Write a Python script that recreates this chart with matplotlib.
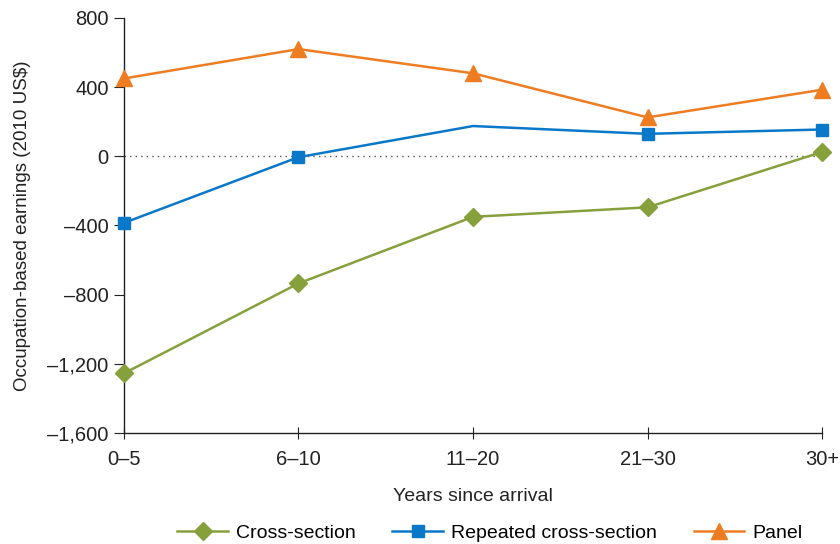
import matplotlib.pyplot as plt
from matplotlib.ticker import FuncFormatter

plt.rcParams["font.family"] = ["Liberation Sans", "DejaVu Sans"]

categories = ["0\u20135", "6\u201310", "11\u201320", "21\u201330", "30+"]
cross_section = [-1255, -735, -350, -295, 25]
repeated = [-385, -5, 175, 130, 155]
panel = [450, 620, 480, 225, 385]

GREEN = "#86a03c"
BLUE = "#0a78c8"
ORANGE = "#ee7d22"
TEXT = "#222222"

fig = plt.figure(figsize=(8.4, 5.44), dpi=100)
ax = fig.add_axes([0.1476, 0.204, 0.831, 0.763])

x = list(range(len(categories)))
ax.axhline(0, color="#555555", lw=1, ls=(0, (1, 3)), zorder=1)

ax.plot(x, cross_section, color=GREEN, lw=1.8, marker="D", ms=9,
        label="Cross-section", zorder=3)
ax.plot(x, repeated, color=BLUE, lw=1.8, marker="s", ms=9,
        markevery=[0, 1, 3, 4], label="Repeated cross-section", zorder=3)
ax.plot(x, panel, color=ORANGE, lw=1.8, marker="^", ms=12,
        label="Panel", zorder=3)

ax.set_xlim(0, 4)
ax.set_ylim(-1600, 800)
ax.set_yticks(range(-1600, 801, 400))
ax.yaxis.set_major_formatter(FuncFormatter(
    lambda v, p: f"{int(v):,}".replace("-", "\u2013")))
ax.set_xticks(x)
ax.set_xticklabels(categories)

for s in ["top", "right"]:
    ax.spines[s].set_visible(False)
for s in ["left", "bottom"]:
    ax.spines[s].set_color(TEXT)
    ax.spines[s].set_linewidth(1)

ax.tick_params(axis="y", direction="out", length=7, labelsize=14.5,
               colors=TEXT, pad=4)
ax.tick_params(axis="x", direction="inout", length=8, labelsize=14.5,
               colors=TEXT, pad=8)

ax.set_ylabel("Occupation-based earnings (2010 US$)", fontsize=13.5,
              color=TEXT, labelpad=12)
ax.set_xlabel("Years since arrival", fontsize=14, color=TEXT, labelpad=14)
for ln in ax.lines:
    ln.set_clip_on(False)

fig.legend(loc="lower center", bbox_to_anchor=(0.583, 0.0), ncol=3,
           frameon=False, fontsize=14, handlelength=2.6, columnspacing=1.9,
           handletextpad=0.4, borderpad=0.1, borderaxespad=0.0)

fig.savefig("out.png", dpi=100)
